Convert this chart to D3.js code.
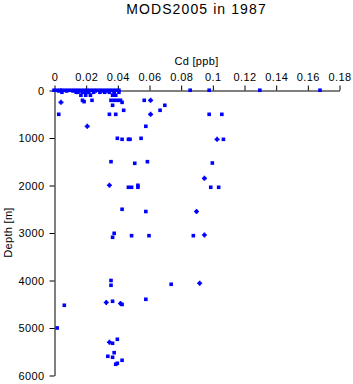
<!DOCTYPE html>
<html>
<head>
<meta charset="utf-8">
<script src="https://cdn.jsdelivr.net/npm/d3@7"></script>
<style>
  body { margin: 0; background: #fff; }
  text { font-family: "Liberation Sans", Arial, sans-serif; fill: #000; }
</style>
</head>
<body>
<div id="chart"></div>
<script>
// Cd [ppb] and depth [m] for the square markers
var cdValues = [
  0.000, 0.002, 0.004, 0.005, 0.007, 0.009, 0.011, 0.013, 0.015, 0.017, 0.019,
  0.021, 0.023, 0.025, 0.027, 0.029, 0.031, 0.033, 0.035, 0.037, 0.039, 0.041,
  0.086, 0.098, 0.130, 0.168,
  0.003, 0.008, 0.012, 0.016, 0.021, 0.026, 0.030, 0.034, 0.038,
  0.005, 0.014, 0.015, 0.018, 0.020, 0.022, 0.025, 0.029, 0.032, 0.035, 0.038, 0.041,
  0.017, 0.020, 0.023, 0.037, 0.039,
  0.018, 0.019, 0.024, 0.036, 0.038, 0.040, 0.042, 0.043, 0.057,
  0.037, 0.070, 0.044, 0.067,
  0.003, 0.035, 0.039, 0.098, 0.106,
  0.058, 0.040, 0.055, 0.043, 0.047, 0.048, 0.107,
  0.036, 0.059, 0.051, 0.100,
  0.053, 0.047, 0.049, 0.053, 0.099, 0.104,
  0.043, 0.058,
  0.038, 0.037, 0.049, 0.060, 0.088,
  0.036, 0.036, 0.074, 0.058, 0.037, 0.043, 0.0065, 0.002,
  0.040, 0.037, 0.038, 0.034, 0.037, 0.043, 0.039, 0.040
];
var depthValues = [
  5, 5, 5, 5, 5, 5, 5, 5, 5, 5, 5,
  5, 5, 5, 5, 5, 5, 5, 5, 5, 5, 5,
  5, 5, 5, 5,
  20, 20, 20, 20, 20, 20, 20, 20, 20,
  48, 48, 48, 48, 48, 48, 48, 48, 48, 48, 48, 48,
  110, 110, 110, 110, 110,
  217, 245, 217, 217, 217, 217, 217, 260, 217,
  322, 322, 427, 427,
  512, 512, 512, 512, 512,
  764, 1017, 1017, 1038, 1038, 1038, 1038,
  1509, 1509, 1543, 1537,
  2006, 2048, 2048, 2048, 2048, 2048,
  2511, 2558,
  3017, 3101, 3067, 3067, 3067,
  4010, 4111, 4090, 4406, 4448, 4515, 4532, 5010,
  5248, 5332, 5530, 5606, 5627, 5690, 5774, 5753
];

// Cd [ppb] and depth [m] for the cross markers
var crossCd = [0.0044, 0.061, 0.061, 0.021, 0.103, 0.095, 0.035, 0.090, 0.095, 0.092, 0.033, 0.042, 0.035];
var crossDepth = [259, 217, 512, 764, 1038, 1859, 2006, 2558, 3052, 4069, 4473, 4494, 5311];

var xTicks = [0, 0.02, 0.04, 0.06, 0.08, 0.1, 0.12, 0.14, 0.16, 0.18];
var xTickLabels = ["0", "0.02", "0.04", "0.06", "0.08", "0.1", "0.12", "0.14", "0.16", "0.18"];
var yTicks = [0, 1000, 2000, 3000, 4000, 5000, 6000];

var svgWidth = 353;
var svgHeight = 384;

var margin = { top: 90, right: 14, bottom: 9, left: 54 };
var width = svgWidth - margin.left - margin.right;
var height = svgHeight - margin.top - margin.bottom;

var svg = d3.select("#chart")
  .append("svg")
  .attr("width", svgWidth)
  .attr("height", svgHeight);

var chartGroup = svg.append("g")
  .attr("transform", `translate(${margin.left}, ${margin.top})`);

var xScale = d3.scaleLinear().domain([0, 0.18]).range([0, width]);
var yScale = d3.scaleLinear().domain([0, 6000]).range([0, height]);

// x axis on top
var topAxis = d3.axisTop(xScale)
  .tickValues(xTicks)
  .tickFormat((d, i) => xTickLabels[i])
  .tickSize(5)
  .tickSizeOuter(0)
  .tickPadding(5);

var xAxisG = chartGroup.append("g")
  .attr("transform", "translate(0.5, 0.5)")
  .call(topAxis);

// y axis on the left
var leftAxis = d3.axisLeft(yScale)
  .tickValues(yTicks)
  .tickFormat(d3.format("d"))
  .tickSize(5)
  .tickSizeOuter(0)
  .tickPadding(5);

var yAxisG = chartGroup.append("g")
  .attr("transform", "translate(0.5, 0.5)")
  .call(leftAxis);

[xAxisG, yAxisG].forEach(function(g) {
  g.selectAll("path, line").attr("stroke", "#000").attr("stroke-width", 1);
  g.selectAll("text")
    .attr("fill", "#000")
    .style("font-family", "'Liberation Sans', Arial, sans-serif")
    .style("font-size", "11px")
    .style("letter-spacing", "0.4px");
});

// square markers
var sq = 3.6;
chartGroup.selectAll("rect.pt")
  .data(cdValues.map((c, i) => ({ cd: c, depth: depthValues[i] })))
  .enter()
  .append("rect")
  .attr("class", "pt")
  .attr("x", d => xScale(d.cd) - sq / 2)
  .attr("y", d => yScale(d.depth) - sq / 2)
  .attr("width", sq)
  .attr("height", sq)
  .attr("fill", "#0000ff");

// cross markers: small square with short arms
var crossData = crossCd.map((c, i) => ({ cd: c, depth: crossDepth[i] }));
var crossSymbol = d3.symbol().type(d3.symbolCross).size(14);
var crossGroup = chartGroup.selectAll("g.cross")
  .data(crossData)
  .enter()
  .append("g")
  .attr("class", "cross")
  .attr("transform", d => `translate(${xScale(d.cd)}, ${yScale(d.depth)})`);

crossGroup.append("rect")
  .attr("x", -1.5)
  .attr("y", -1.5)
  .attr("width", 3)
  .attr("height", 3)
  .attr("fill", "#0000ff");

crossGroup.append("path")
  .attr("d", crossSymbol)
  .attr("fill", "#0000ff");

// titles
svg.append("text")
  .attr("x", margin.left + width / 2)
  .attr("y", 14)
  .attr("text-anchor", "middle")
  .style("font-size", "14px")
  .style("letter-spacing", "1.1px")
  .text("MODS2005 in 1987");

svg.append("text")
  .attr("x", margin.left + width / 2)
  .attr("y", 65)
  .attr("text-anchor", "middle")
  .style("font-size", "11px")
  .style("letter-spacing", "0.3px")
  .text("Cd [ppb]");

svg.append("text")
  .attr("transform", "rotate(-90)")
  .attr("x", -(margin.top + height / 2))
  .attr("y", 12)
  .attr("text-anchor", "middle")
  .style("font-size", "11px")
  .style("letter-spacing", "0.3px")
  .text("Depth [m]");
</script>
</body>
</html>
